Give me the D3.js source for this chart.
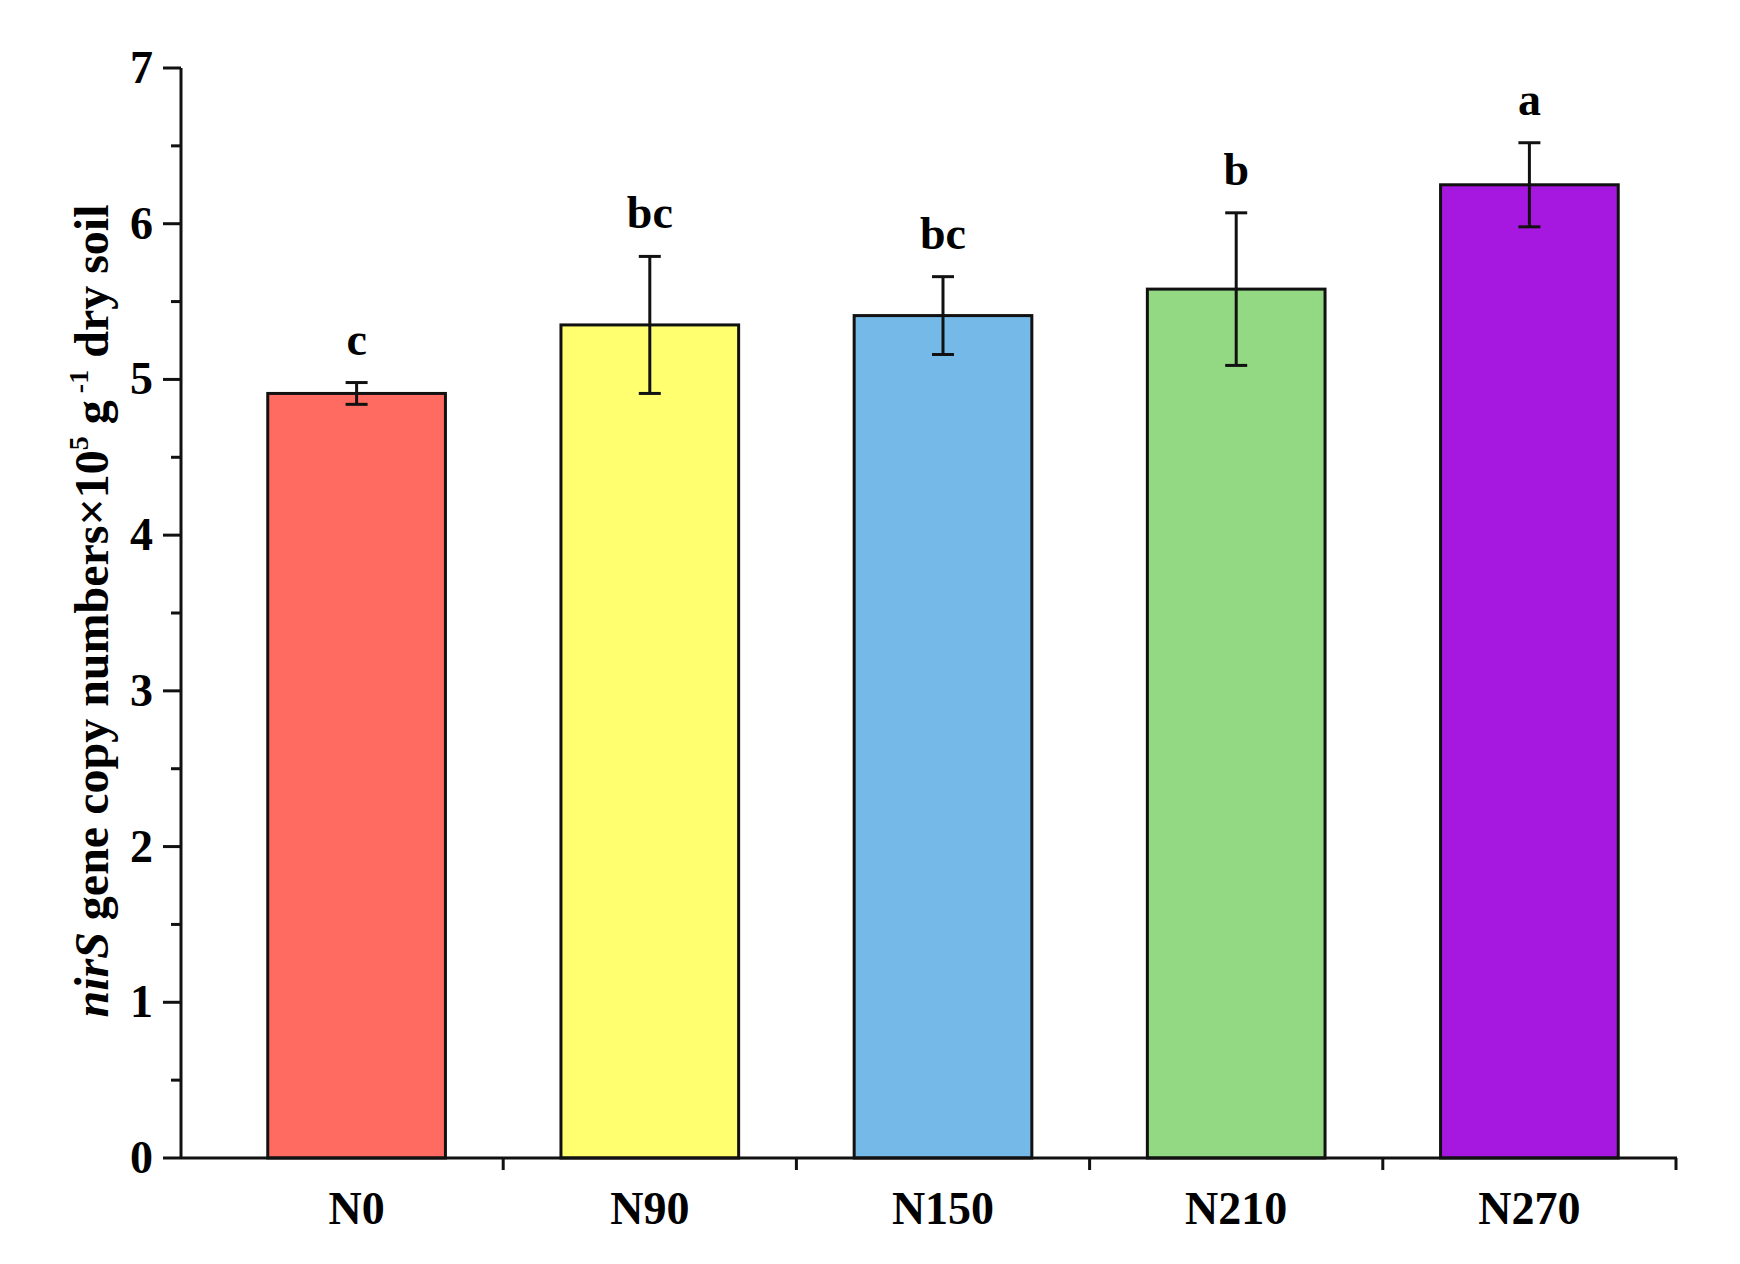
<!DOCTYPE html><html><head><meta charset="utf-8">
<script src="https://cdn.jsdelivr.net/npm/d3@7"></script>
<style>body{margin:0;background:#fff}</style></head><body><svg id="c" width="1740" height="1264"></svg>
<script>
const categories=["N0","N90","N150","N210","N270"];
const values=[4.91,5.35,5.41,5.58,6.25];
const errors=[0.07,0.44,0.25,0.49,0.27];
const letters=["c","bc","bc","b","a"];
const colors=["#ff6b61","#ffff70","#74b9e8","#93d882","#a617e0"];
const yTicks=[0,1,2,3,4,5,6,7];
const svg=d3.select("#c");
const font="'Liberation Serif','Times New Roman',serif";
const x=d3.scaleBand().domain(categories).range([210,1676]).paddingInner(0.394).paddingOuter(0.197);
const y=d3.scaleLinear().domain([0,7]).range([1158,68]);
const axL=181, axR=1677;
svg.selectAll("rect.b").data(categories).enter().append("rect")
 .attr("x",d=>x(d)).attr("width",x.bandwidth()).attr("y",(d,i)=>y(values[i])).attr("height",(d,i)=>y(0)-y(values[i]))
 .attr("fill",(d,i)=>colors[i]).attr("stroke","#111").attr("stroke-width",3);
const g=svg.append("g").attr("stroke","#111").attr("stroke-width",3);
categories.forEach((c,i)=>{const cx=x(c)+x.bandwidth()/2;
 g.append("line").attr("x1",cx).attr("x2",cx).attr("y1",y(values[i]-errors[i])).attr("y2",y(values[i]+errors[i]));
 [values[i]-errors[i],values[i]+errors[i]].forEach(v=>g.append("line").attr("x1",cx-11).attr("x2",cx+11).attr("y1",y(v)).attr("y2",y(v)));
 svg.append("text").attr("x",cx).attr("y",y(values[i]+errors[i])-28).attr("text-anchor","middle")
  .attr("font-family",font).attr("font-weight","bold").attr("font-size",46).text(letters[i]);
});
svg.append("line").attr("x1",axL).attr("x2",axL).attr("y1",y(7)).attr("y2",y(0)).attr("stroke","#111").attr("stroke-width",3);
svg.append("line").attr("x1",axL).attr("x2",axR).attr("y1",y(0)).attr("y2",y(0)).attr("stroke","#111").attr("stroke-width",3);
yTicks.forEach(t=>{svg.append("line").attr("x1",axL-18).attr("x2",axL).attr("y1",y(t)).attr("y2",y(t)).attr("stroke","#111").attr("stroke-width",3);
 svg.append("text").attr("x",axL-28).attr("y",y(t)+15).attr("text-anchor","end").attr("font-family",font).attr("font-weight","bold").attr("font-size",46).text(t);
 if(t<7) svg.append("line").attr("x1",axL-10).attr("x2",axL).attr("y1",y(t+0.5)).attr("y2",y(t+0.5)).attr("stroke","#111").attr("stroke-width",3);});
const step=x.step();
categories.forEach((c,i)=>{const cx=x(c)+x.bandwidth()/2;
 svg.append("line").attr("x1",cx+step/2).attr("x2",cx+step/2).attr("y1",y(0)).attr("y2",y(0)+12).attr("stroke","#111").attr("stroke-width",3);
 svg.append("text").attr("x",cx).attr("y",y(0)+66).attr("text-anchor","middle").attr("font-family",font).attr("font-weight","bold").attr("font-size",46).text(c);});
const t=svg.append("text").attr("transform","translate(108,611) rotate(-90)").attr("text-anchor","middle")
 .attr("font-family",font).attr("font-weight","bold").attr("font-size",48);
t.append("tspan").attr("font-style","italic").text("nirS");
t.append("tspan").text(" gene copy numbers×10");
t.append("tspan").attr("font-size",28).attr("dy",-20).text("5");
t.append("tspan").attr("dy",20).text(" g");
t.append("tspan").attr("font-size",28).attr("dy",-20).text(" -1");
t.append("tspan").attr("dy",20).text(" dry soil");
</script></body></html>
